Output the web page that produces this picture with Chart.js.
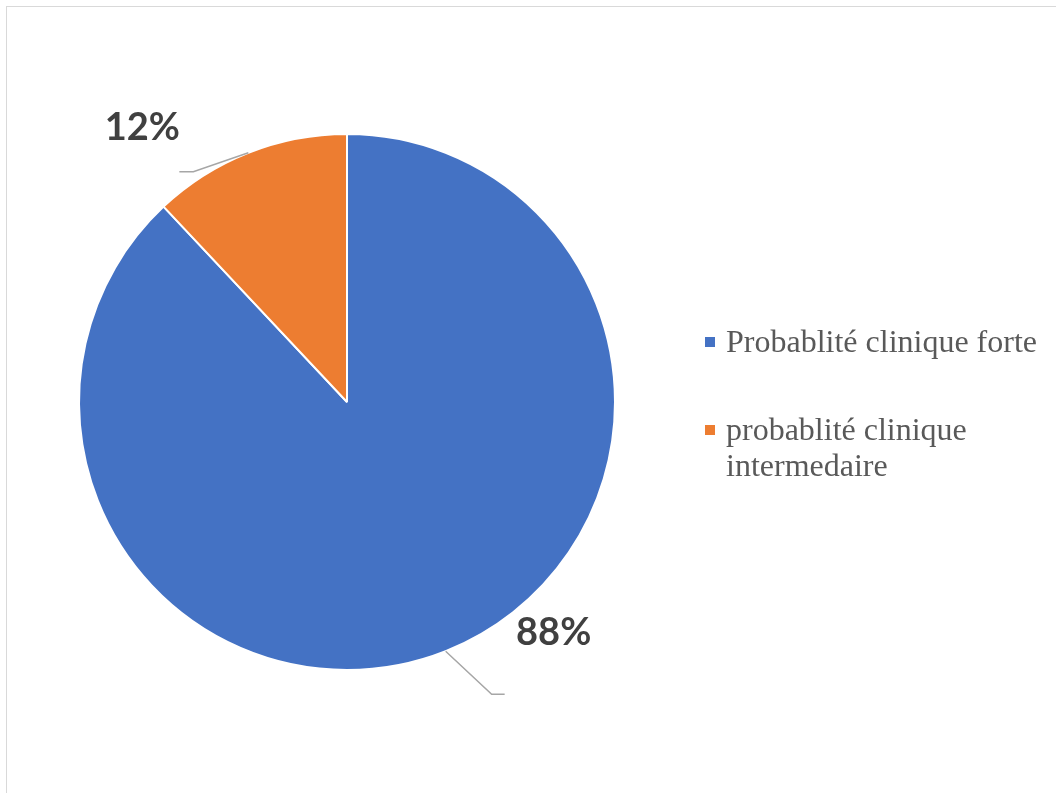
<!DOCTYPE html>
<html>
<head>
<meta charset="utf-8">
<script src="https://cdn.jsdelivr.net/npm/chart.js@4/dist/chart.umd.min.js"></script>
<style>
    html, body { margin: 0; padding: 0; background: #fff; }
    #wrap { position: relative; width: 1056px; height: 793px; overflow: hidden; }
    #frame { position: absolute; left: 6px; top: 6px; width: 1070px; height: 820px; border: 1.5px solid #d9d9d9; box-sizing: border-box; }
    canvas { position: absolute; left: 0; top: 0; }
</style>
</head>
<body>
<div id="wrap">
    <div id="frame"></div>
    <canvas id="pieChart" width="1056" height="793"></canvas>
</div>
<script>
// Chart data
const categories = ['Probablité clinique forte', 'probablité clinique intermedaire'];
const shares = [88, 12];
const sliceColors = ['#4472C4', '#ED7D31'];

// Where each percentage label and its leader line sit, relative to the slice edge point
const labelLayout = [
    { elbow: [46, 43], tail: 13, text: [108, -18] },
    { elbow: [-55, 19], tail: -14, text: [-106, -25] }
];

const calloutPlugin = {
    id: 'callouts',
    afterDatasetsDraw(chart) {
        const ctx = chart.ctx;
        const arcs = chart.getDatasetMeta(0).data;
        ctx.save();
        arcs.forEach((arc, i) => {
            const mid = (arc.startAngle + arc.endAngle) / 2;
            const px = arc.x + Math.cos(mid) * arc.outerRadius;
            const py = arc.y + Math.sin(mid) * arc.outerRadius;
            const lay = labelLayout[i];
            const ex = px + lay.elbow[0], ey = py + lay.elbow[1];
            ctx.strokeStyle = '#A6A6A6';
            ctx.lineWidth = 1.5;
            ctx.beginPath();
            ctx.moveTo(px, py);
            ctx.lineTo(ex, ey);
            ctx.lineTo(ex + lay.tail, ey);
            ctx.stroke();
            ctx.fillStyle = '#404040';
            ctx.font = 'bold 38px Lato, "Open Sans", sans-serif';
            ctx.textAlign = 'center';
            ctx.textBaseline = 'middle';
            ctx.fillText(shares[i] + '%', px + lay.text[0], py + lay.text[1]);
        });
        ctx.restore();
    }
};

// Legend on the right, drawn by hand so long names wrap like the original
const sideLegendPlugin = {
    id: 'sideLegend',
    afterDraw(chart) {
        const ctx = chart.ctx;
        const x0 = 705, textX = 726, maxW = 320, lineH = 36;
        let baseline = 352;
        ctx.save();
        ctx.font = '32px "Liberation Serif", "Times New Roman", serif';
        ctx.textBaseline = 'alphabetic';
        ctx.textAlign = 'left';
        chart.data.labels.forEach((name, i) => {
            // word wrap
            const words = name.split(' ');
            const lines = [];
            let cur = '';
            words.forEach(w => {
                const test = cur ? cur + ' ' + w : w;
                if (ctx.measureText(test).width > maxW && cur) {
                    lines.push(cur);
                    cur = w;
                } else {
                    cur = test;
                }
            });
            lines.push(cur);
            ctx.fillStyle = chart.data.datasets[0].backgroundColor[i];
            ctx.fillRect(x0, baseline - 15, 10, 10);
            ctx.fillStyle = '#595959';
            lines.forEach((ln, j) => ctx.fillText(ln, textX, baseline + j * lineH));
            baseline += lines.length * lineH + 52;
        });
        ctx.restore();
    }
};

const ctx1 = document.getElementById('pieChart').getContext('2d');
const pieChart = new Chart(ctx1, {
    type: 'pie',
    data: {
        labels: categories,
        datasets: [{
            data: shares,
            backgroundColor: sliceColors,
            borderColor: '#ffffff',
            borderWidth: 2
        }]
    },
    options: {
        responsive: false,
        animation: false,
        layout: { padding: { left: 78, top: 132, right: 440, bottom: 121 } },
        plugins: {
            legend: { display: false },
            tooltip: { enabled: false }
        }
    },
    plugins: [calloutPlugin, sideLegendPlugin]
});
</script>
</body>
</html>
